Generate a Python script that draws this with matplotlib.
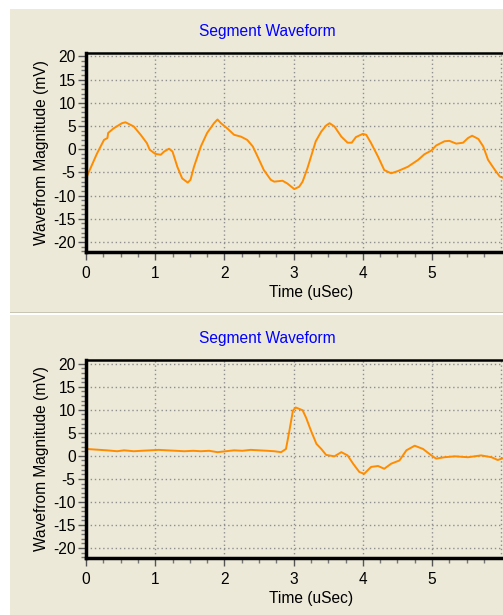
import matplotlib.pyplot as plt
from matplotlib.patches import Rectangle
from matplotlib.ticker import MultipleLocator

# top segment waveform (time in uSec, magnitude in mV)
t_top = [0.0, 0.16, 0.26, 0.31, 0.32, 0.40, 0.52, 0.57, 0.69, 0.79, 0.88, 0.92,
         1.0, 1.08, 1.13, 1.20, 1.25, 1.32, 1.39, 1.47, 1.51, 1.56, 1.66, 1.75,
         1.85, 1.90, 1.95, 2.04, 2.14, 2.24, 2.33, 2.41, 2.48, 2.57, 2.67, 2.72,
         2.84, 2.91, 3.01, 3.08, 3.13, 3.20, 3.32, 3.40, 3.47, 3.52, 3.59, 3.69,
         3.78, 3.84, 3.90, 4.00, 4.05, 4.12, 4.22, 4.31, 4.41, 4.51, 4.65, 4.80,
         4.89, 4.99, 5.06, 5.18, 5.25, 5.35, 5.45, 5.52, 5.58, 5.67, 5.74, 5.81,
         5.91, 5.98, 6.05]
v_top = [-6.3, -0.9, 2.0, 2.4, 3.5, 4.5, 5.6, 5.8, 4.9, 3.1, 1.3, -0.1,
         -1.0, -1.2, -0.5, 0.1, -0.5, -3.8, -6.3, -7.2, -6.6, -3.8, 0.6, 3.5,
         5.6, 6.4, 5.6, 4.5, 3.1, 2.7, 2.0, 0.6, -1.6, -4.5, -6.6, -7.0,
         -6.8, -7.4, -8.6, -8.1, -7.0, -4.1, 1.7, 3.8, 5.1, 5.6, 4.9, 2.7,
         1.4, 1.4, 2.6, 3.3, 3.1, 1.3, -1.6, -4.5, -5.2, -4.7, -3.8, -2.3,
         -1.1, -0.3, 0.8, 1.7, 1.8, 1.2, 1.4, 2.4, 2.9, 2.2, 0.6, -2.3,
         -4.5, -5.9, -6.3]

# bottom segment waveform
t_bot = [0.0, 0.1, 0.2, 0.3, 0.45, 0.55, 0.69, 0.8, 0.93, 1.05, 1.17, 1.3,
         1.42, 1.55, 1.66, 1.78, 1.90, 2.02, 2.14, 2.26, 2.38, 2.5, 2.62, 2.72,
         2.82, 2.89, 2.94, 2.99, 3.03, 3.13, 3.18, 3.25, 3.33, 3.40, 3.47, 3.59,
         3.69, 3.78, 3.86, 3.95, 4.02, 4.12, 4.22, 4.31, 4.41, 4.53, 4.63, 4.75,
         4.87, 4.99, 5.06, 5.18, 5.33, 5.52, 5.71, 5.86, 5.95, 6.05]
v_bot = [1.5, 1.4, 1.3, 1.2, 1.0, 1.2, 1.0, 1.1, 1.2, 1.3, 1.2, 1.1,
         1.0, 1.1, 1.0, 1.1, 0.8, 1.0, 1.2, 1.1, 1.3, 1.2, 1.1, 1.0,
         0.8, 1.5, 5.5, 9.8, 10.5, 9.9, 8.3, 5.5, 2.6, 1.5, 0.2, -0.1,
         0.8, 0.1, -1.7, -3.5, -3.9, -2.4, -2.2, -2.8, -1.7, -1.0, 1.2, 2.2,
         1.5, 0.1, -0.6, -0.3, -0.1, -0.3, 0.1, -0.3, -0.9, -0.4]

x_ticks = [0, 1, 2, 3, 4, 5]

W, H = 503, 615
bg = '#ECE9D8'
plt.rcParams['font.family'] = ['Liberation Sans', 'DejaVu Sans']
plt.rcParams['font.size'] = 11.2
plt.rcParams['axes.unicode_minus'] = False

fig = plt.figure(figsize=(W / 100, H / 100), dpi=100)
fig.patch.set_facecolor('white')

# panel backgrounds (pixel boxes -> figure fraction)
for y0, h, c in [(1 - 312 / H, 303 / H, bg), (1 - 313 / H, 1 / H, '#C8C5B5'), (0, 300 / H, bg)]:
    fig.patches.append(Rectangle((10 / W, y0), 1, h, transform=fig.transFigure,
                                 facecolor=c, edgecolor='none', zorder=-5))

xmax = 6.5
px_per_unit = 69.2


def draw_panel(top_px, bottom_px, t, v, title_px):
    ax = fig.add_axes([86 / W, 1 - bottom_px / H, xmax * px_per_unit / W, (bottom_px - top_px) / H])
    ax.set_facecolor(bg)
    ax.plot(t, v, color='#FF8C00', lw=1.4)
    ax.set_xlim(0, xmax)
    ax.set_ylim(-22.1, 20.8)
    ax.set_xticks(x_ticks)
    ax.set_xticks([m * 0.25 for m in range(24)], minor=True)
    ax.yaxis.set_major_locator(MultipleLocator(5))
    ax.yaxis.set_minor_locator(MultipleLocator(1))
    ax.tick_params(which='major', length=6, width=1, color='#555555')
    ax.tick_params(which='minor', length=3.5, width=1, color='#777777')
    ax.tick_params(axis='y', pad=1.5)
    ax.tick_params(axis='x', pad=4.5)
    ax.grid(True, which='major', color='#8f8f8f', linestyle=(0, (1, 2)), lw=1)
    ax.axvline(6, color='#8f8f8f', linestyle=(0, (1, 2)), lw=1)
    ax.spines['left'].set_linewidth(2.5)
    ax.spines['bottom'].set_linewidth(2.5)
    ax.spines['top'].set_linewidth(1.8)
    ax.spines['right'].set_visible(False)
    ax.set_xlabel('Time (uSec)', labelpad=3)
    ax.set_ylabel('Wavefrom Magnitude (mV)', labelpad=3)
    fig.text(267 / W, 1 - title_px / H, 'Segment Waveform', color='#0000FF',
             ha='center', va='center', fontsize=11.2)
    return ax


draw_panel(52.7, 251.7, t_top, v_top, 31.5)
draw_panel(360, 557.7, t_bot, v_bot, 338)

plt.savefig('out.png', dpi=100, facecolor=fig.get_facecolor())
